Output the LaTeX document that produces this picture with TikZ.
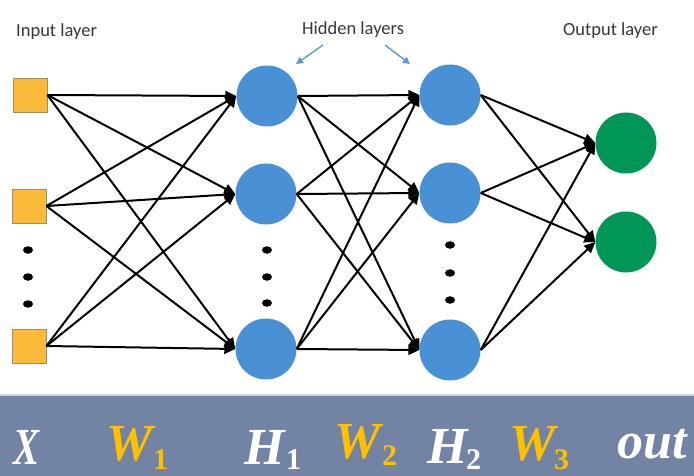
\documentclass[tikz,border=0pt]{standalone}
\usepackage{fontspec}
\setmainfont{Liberation Serif}
\newfontfamily\labfont{Carlito}
\usetikzlibrary{arrows.meta,shapes.geometric}
\definecolor{sqfill}{RGB}{250,187,58}
\definecolor{sqdraw}{RGB}{160,145,100}
\definecolor{hblue}{RGB}{74,144,212}
\definecolor{ogreen}{RGB}{0,150,88}
\definecolor{band}{RGB}{114,131,163}
\definecolor{bandline}{RGB}{200,212,228}
\definecolor{wgold}{RGB}{255,192,0}
\definecolor{lblgray}{RGB}{55,55,55}
\definecolor{pointer}{RGB}{90,155,213}
\tikzset{
  insq/.style={rectangle, minimum size=34pt, inner sep=0pt, fill=sqfill, draw=sqdraw, line width=0.8pt},
  hid/.style={circle, minimum size=61pt, inner sep=0pt, fill=hblue},
  outn/.style={circle, minimum size=61pt, inner sep=0pt, fill=ogreen},
  vdot/.style={ellipse, minimum width=10pt, minimum height=7.5pt, inner sep=0pt, fill=black},
  conn/.style={line width=2pt, -{Triangle[length=11pt,width=10pt]}},
  pointarrow/.style={pointer, line width=1.4pt, -{Triangle[length=7pt,width=7pt]}},
  toplabel/.style={font=\labfont\fontsize{18.5}{22}\selectfont, text=lblgray, anchor=base west, inner sep=0pt},
  bigsym/.style={font=\fontsize{52}{60}\selectfont\bfseries\itshape, anchor=base west, inner sep=0pt},
  subsym/.style={font=\fontsize{30}{36}\selectfont\bfseries, anchor=base west, inner sep=0pt}
}
\begin{document}
\begin{tikzpicture}[x=1pt,y=-1pt]
\useasboundingbox (0,0) rectangle (694,476);
\fill[white] (0,0) rectangle (694,476);
% bottom band
\fill[band] (0,395) rectangle (694,476);
\draw[bandline, line width=1.5pt] (0,395) -- (694,395);

% top labels
\node[toplabel] (tin) at (16,37) {Input layer};
\node[toplabel] (thid) at (302,35) {Hidden layers};
\node[toplabel] (tout) at (563,36) {Output layer};

% pointer arrows
\coordinate (p1s) at (323,45);
\coordinate (p1e) at (296,64);
\coordinate (p2s) at (385,45);
\coordinate (p2e) at (410,64);
\draw[pointarrow] (p1s) -- (p1e);
\draw[pointarrow] (p2s) -- (p2e);

% nodes
\node[insq] (in1) at (30,95) {};
\node[insq] (in2) at (29,206) {};
\node[insq] (in3) at (29,346) {};

\node[hid] (h11) at (267,96) {};
\node[hid] (h12) at (266,194) {};
\node[hid] (h13) at (266,349) {};

\node[hid] (h21) at (450,95) {};
\node[hid] (h22) at (450,193) {};
\node[hid] (h23) at (450,350) {};

\node[outn] (o1) at (626,143) {};
\node[outn] (o2) at (626,242) {};

% dots
\node[vdot] (di1) at (28,250) {};
\node[vdot] (di2) at (28,277) {};
\node[vdot] (di3) at (28,304) {};
\node[vdot] (dh11) at (267,250) {};
\node[vdot] (dh12) at (267,277) {};
\node[vdot] (dh13) at (267,303) {};
\node[vdot] (dh21) at (450,245) {};
\node[vdot] (dh22) at (450,273) {};
\node[vdot] (dh23) at (450,300) {};

% connections
\foreach \a in {1,2,3} {
  \foreach \b in {1,2,3} {
    \draw[conn] (in\a.east) -- (h1\b.west);
    \draw[conn] (h1\a.east) -- (h2\b.west);
  }
  \foreach \b in {1,2} {
    \draw[conn] (h2\a.east) -- (o\b.west);
  }
}

% bottom symbols
\node[bigsym, text=white] (sX) at (13,464) {\scalebox{0.75}[1]{X}};
\node[bigsym, text=wgold] (sW1) at (106,460) {W};
\node[subsym, text=wgold] (sW1s) at (153,469) {1};
\node[bigsym, text=white] (sH1) at (244,464) {H};
\node[subsym, text=white] (sH1s) at (286,469) {1};
\node[bigsym, text=wgold] (sW2) at (334,458) {W};
\node[subsym, text=wgold] (sW2s) at (382,465) {2};
\node[bigsym, text=white] (sH2) at (427,463) {H};
\node[subsym, text=white] (sH2s) at (466,469) {2};
\node[bigsym, text=wgold] (sW3) at (509,460) {W};
\node[subsym, text=wgold] (sW3s) at (554,469) {3};
\node[bigsym, text=white] (sout) at (617,458) {out};
\end{tikzpicture}
\end{document}
